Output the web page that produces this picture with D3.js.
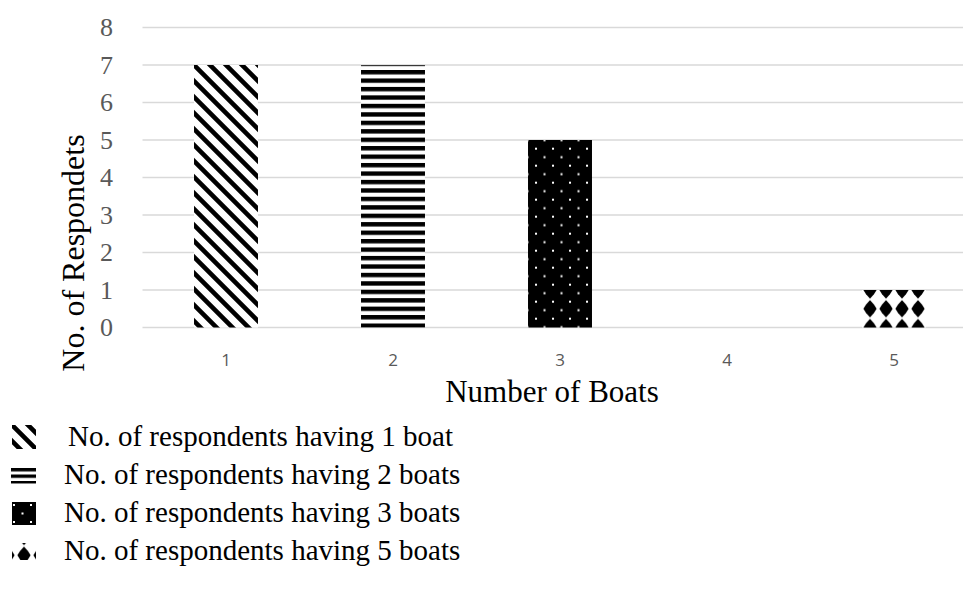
<!DOCTYPE html>
<html>
<head>
<meta charset="utf-8">
<script src="https://cdn.jsdelivr.net/npm/d3@7"></script>
<style>
  html, body { margin: 0; padding: 0; background: #fff; }
  svg { display: block; }
</style>
</head>
<body>
<svg id="chart" width="963" height="592"></svg>
<script>
// Number of respondents by number of boats owned
const categories = ["1", "2", "3", "4", "5"];
const respondents = [7, 7, 5, 0, 1];
const yTicks = [0, 1, 2, 3, 4, 5, 6, 7, 8];
const legendLabels = [
  "No. of respondents having 1 boat",
  "No. of respondents having 2 boats",
  "No. of respondents having 3 boats",
  "No. of respondents having 5 boats"
];
const barKinds = ["diag", "horiz", "dots", null, "diamond"];
const legendKinds = ["diag", "horiz", "dots", "diamond"];

const svg = d3.select("#chart");
const W = 963;
const serif = "'Liberation Serif', 'Times New Roman', serif";

const x = d3.scaleBand()
  .domain(categories)
  .range([142.5, 977.5])
  .paddingInner(0.617)
  .paddingOuter(0.3085);

const y = d3.scaleLinear()
  .domain([0, 8])
  .range([327.5, 27.5]);

const defs = svg.append("defs");

// fill patterns, anchored in user space at (ox, oy)
function makePattern(id, kind, ox, oy, s = 1) {
  const p = defs.append("pattern").attr("id", id)
    .attr("patternUnits", "userSpaceOnUse")
    .attr("x", ox).attr("y", oy);
  if (kind === "diag") {
    const w = 16 * s;
    p.attr("width", w).attr("height", w);
    p.append("rect").attr("width", w).attr("height", w).attr("fill", "#fff");
    p.append("path")
      .attr("d", `M${-w/4},${-w/4}L${w*1.25},${w*1.25}M${-w/4},${w*0.75}L${w/4},${w*1.25}M${w*0.75},${-w/4}L${w*1.25},${w/4}`)
      .attr("stroke", "#000").attr("stroke-width", 4.6 * s);
  } else if (kind === "horiz") {
    const h = 8.45 * s;
    p.attr("width", 8).attr("height", h);
    p.append("rect").attr("width", 8).attr("height", h).attr("fill", "#fff");
    p.append("rect").attr("y", 0).attr("width", 8).attr("height", h * 0.52).attr("fill", "#000");
  } else if (kind === "dots") {
    p.attr("width", 17).attr("height", 17);
    p.append("rect").attr("width", 17).attr("height", 17).attr("fill", "#000");
    p.append("rect").attr("x", 3).attr("y", 3).attr("width", 2).attr("height", 2).attr("fill", "#fff");
    p.append("rect").attr("x", 11.5).attr("y", 11.5).attr("width", 2).attr("height", 2).attr("fill", "#fff");
  } else if (kind === "diamond") {
    const w = 16, h = 18.75;
    p.attr("width", w).attr("height", h);
    p.append("rect").attr("width", w).attr("height", h).attr("fill", "#fff");
    const d = "M0,-8.6L4,-4.3L6.6,0L4,4.3L0,8.6L-4,4.3L-6.6,0L-4,-4.3Z";
    [[8, 0], [8, h]].forEach(([cx, cy]) =>
      p.append("path").attr("transform", `translate(${cx},${cy})`).attr("d", d).attr("fill", "#000"));
  }
}

// bar patterns aligned to their bars
const barAnchor = {
  diag: v => [x("1"), y(v)],
  horiz: v => [x("2"), y(v) + 5],
  dots: v => [x("3") + 4, y(v) + 4.7],
  diamond: v => [x("5"), y(v)]
};
categories.forEach((c, i) => {
  const k = barKinds[i];
  if (k) {
    const [ox, oy] = barAnchor[k](respondents[i]);
    makePattern("bar-" + k, k, ox, oy);
  }
});

// legend layout
const legendTextY = [446, 484, 522, 560];
const legendTextX = [68, 64, 64, 64];
const swatches = [
  { x: 12, y: 425, w: 24, h: 24, ox: 12, oy: 425, s: 1 },
  { x: 11, y: 468, w: 25, h: 15.5, ox: 0, oy: 468, s: 0.77 },
  { x: 12, y: 502, w: 24, h: 23, ox: 10, oy: 501, s: 1 },
  { x: 12, y: 543, w: 24, h: 17, ox: 16, oy: 536.5, s: 1 }
];
legendKinds.forEach((k, i) => makePattern("leg-" + k, k, swatches[i].ox, swatches[i].oy, swatches[i].s));

// gridlines
svg.append("g").selectAll("line").data(yTicks).join("line")
  .attr("x1", 142.5).attr("x2", W)
  .attr("y1", d => y(d)).attr("y2", d => y(d))
  .attr("stroke", "#d9d9d9").attr("stroke-width", 1.6);

// y tick labels
svg.append("g").selectAll("text").data(yTicks).join("text")
  .attr("x", 106.5).attr("y", d => y(d))
  .attr("dy", "0.34em")
  .attr("text-anchor", "middle")
  .attr("font-family", serif)
  .attr("font-size", 26)
  .attr("fill", "#595959")
  .text(d => d);

// bars
const barData = categories.map((c, i) => ({ c, v: respondents[i], k: barKinds[i] }))
  .filter(d => d.v > 0 && d.k);
svg.append("g").selectAll("rect").data(barData).join("rect")
  .attr("x", d => x(d.c))
  .attr("y", d => y(d.v))
  .attr("width", x.bandwidth())
  .attr("height", d => y(0) - y(d.v))
  .attr("fill", d => `url(#bar-${d.k})`);

// x tick labels
svg.append("g").selectAll("text").data(categories).join("text")
  .attr("x", d => x(d) + x.bandwidth() / 2)
  .attr("y", 366)
  .attr("text-anchor", "middle")
  .attr("font-family", "'Open Sans', 'Liberation Sans', sans-serif")
  .attr("font-size", 17)
  .attr("fill", "#595959")
  .text(d => d);

// axis titles
svg.append("text")
  .attr("x", 552).attr("y", 402)
  .attr("text-anchor", "middle")
  .attr("font-family", serif)
  .attr("font-size", 31)
  .attr("fill", "#000")
  .text("Number of Boats");

svg.append("text")
  .attr("transform", "translate(73,253) rotate(-90)")
  .attr("dy", "0.35em")
  .attr("text-anchor", "middle")
  .attr("font-family", serif)
  .attr("font-size", 32)
  .attr("fill", "#000")
  .text("No. of Respondets");

// legend
const lg = svg.append("g").selectAll("g").data(legendLabels).join("g");
lg.append("rect")
  .attr("x", (d, i) => swatches[i].x).attr("y", (d, i) => swatches[i].y)
  .attr("width", (d, i) => swatches[i].w).attr("height", (d, i) => swatches[i].h)
  .attr("fill", (d, i) => `url(#leg-${legendKinds[i]})`);
lg.append("text")
  .attr("x", (d, i) => legendTextX[i])
  .attr("y", (d, i) => legendTextY[i])
  .attr("font-family", serif)
  .attr("font-size", 29)
  .attr("fill", "#000")
  .text(d => d);
</script>
</body>
</html>
